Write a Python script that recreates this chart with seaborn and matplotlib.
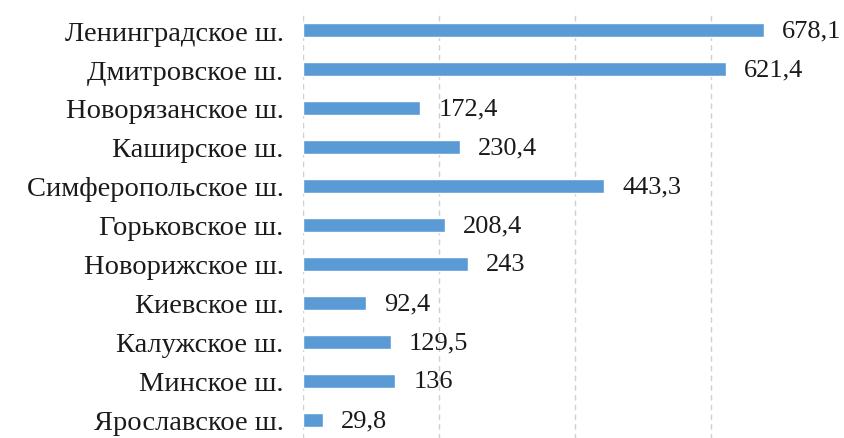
import matplotlib
matplotlib.use("Agg")
import matplotlib.pyplot as plt
import seaborn as sns
import pandas as pd

# Data
roads = ['Ленинградское ш.', 'Дмитровское ш.', 'Новорязанское ш.', 'Каширское ш.',
         'Симферопольское ш.', 'Горьковское ш.', 'Новорижское ш.', 'Киевское ш.',
         'Калужское ш.', 'Минское ш.', 'Ярославское ш.']
values = [678.1, 621.4, 172.4, 230.4, 443.3, 208.4, 243, 92.4, 129.5, 136, 29.8]
grid_ticks = [0, 200, 400, 600, 800]

df = pd.DataFrame({'road': roads, 'value': values})

sns.set_style('white')
plt.rcParams['font.family'] = ['Liberation Serif', 'DejaVu Serif']

fig = plt.figure(figsize=(8.44, 4.39), dpi=100)
ax = fig.add_axes([0.359, -0.0034, 0.6446, 0.9772])

sns.barplot(data=df, x='value', y='road', color='#5b9bd5', width=0.38,
            orient='h', ax=ax, saturation=1)

# value labels with comma as decimal separator
labels = [f'{v:g}'.replace('.', ',') for v in values]
ax.bar_label(ax.containers[0], labels=labels, padding=13, fontsize=19, color='#1a1a1a')

ax.set_xlim(0, 800)
ax.set_xticks(grid_ticks)
ax.set_xticklabels([])
ax.tick_params(axis='x', length=0)
ax.tick_params(axis='y', length=0, pad=14, labelsize=20.5, labelcolor='#1a1a1a')
ax.xaxis.grid(True, linestyle=(0, (4, 3)), color='#d0d0d0', linewidth=1)
ax.set_axisbelow(True)
ax.set_xlabel('')
ax.set_ylabel('')
for s in ax.spines.values():
    s.set_visible(False)

fig.savefig('out.png', dpi=100)
